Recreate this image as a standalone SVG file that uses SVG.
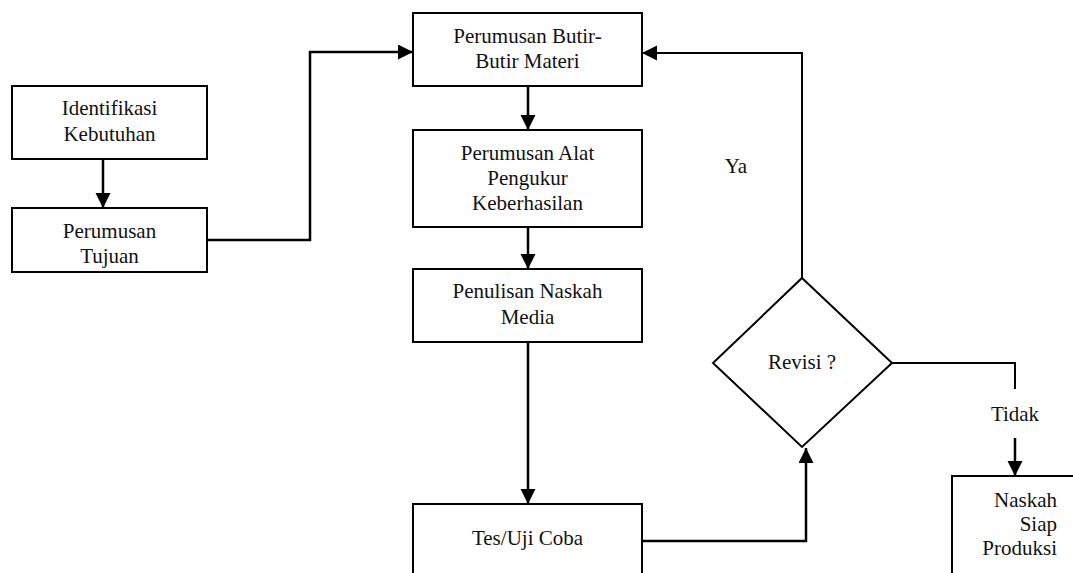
<svg xmlns="http://www.w3.org/2000/svg" width="1073" height="573" viewBox="0 0 1073 573">
<style>
.box{fill:#fff;stroke:#000;stroke-width:2}
.t{font-family:"Liberation Serif","Times New Roman",serif;font-size:21px;fill:#111;text-anchor:middle}
.r{text-anchor:end}
.c{fill:none;stroke:#000;stroke-width:2.5}
.thin{stroke-width:2}
</style>
<defs>
<marker id="ah" markerUnits="userSpaceOnUse" markerWidth="15" markerHeight="16" refX="15" refY="7.5" orient="auto">
<path d="M0,0 L15,7.5 L0,15 Z" fill="#000"/>
</marker>
</defs>
<rect width="1073" height="573" fill="#fff"/>
<g id="connectors">
<path class="c" d="M103,159 V208" marker-end="url(#ah)"/>
<path class="c" d="M207,240 H310 V52 H413" marker-end="url(#ah)"/>
<path class="c" d="M528,86 V130" marker-end="url(#ah)"/>
<path class="c" d="M528,227 V269" marker-end="url(#ah)"/>
<path class="c" d="M528,342 V504" marker-end="url(#ah)"/>
<path class="c" d="M642,541 H806 V448" marker-end="url(#ah)"/>
<path class="c thin" d="M802,278 V53 H642" marker-end="url(#ah)"/>
<path class="c thin" d="M892,363 H1015 V389"/>
<path class="c" d="M1015,438 V476" marker-end="url(#ah)"/>
<text class="t" x="736" y="173">Ya</text>
<text class="t" x="1015" y="421">Tidak</text>
</g>
<g id="n1">
<rect class="box" x="12" y="86" width="195" height="73"/>
<text class="t" x="109.5" y="115">Identifikasi</text>
<text class="t" x="109.5" y="141">Kebutuhan</text>
</g>
<g id="n2">
<rect class="box" x="12" y="208" width="195" height="64"/>
<text class="t" x="109.5" y="238">Perumusan</text>
<text class="t" x="109.5" y="263">Tujuan</text>
</g>
<g id="n3">
<rect class="box" x="413" y="13" width="229" height="73"/>
<text class="t" x="527.5" y="43">Perumusan Butir-</text>
<text class="t" x="527.5" y="68">Butir Materi</text>
</g>
<g id="n4">
<rect class="box" x="413" y="130" width="229" height="97"/>
<text class="t" x="527.5" y="160">Perumusan Alat</text>
<text class="t" x="527.5" y="185">Pengukur</text>
<text class="t" x="527.5" y="210">Keberhasilan</text>
</g>
<g id="n5">
<rect class="box" x="413" y="269" width="229" height="73"/>
<text class="t" x="527.5" y="298">Penulisan Naskah</text>
<text class="t" x="527.5" y="324">Media</text>
</g>
<g id="n6">
<rect class="box" x="413" y="504" width="229" height="90"/>
<text class="t" x="527.5" y="545">Tes/Uji Coba</text>
</g>
<g id="n7">
<polygon class="box" points="802,278 892,363 802,447 713,363"/>
<text class="t" x="802" y="369">Revisi ?</text>
</g>
<g id="n8">
<rect class="box" x="952" y="476" width="140" height="120"/>
<text class="t r" x="1057" y="507">Naskah</text>
<text class="t r" x="1057" y="531">Siap</text>
<text class="t r" x="1057" y="555">Produksi</text>
</g>
</svg>
